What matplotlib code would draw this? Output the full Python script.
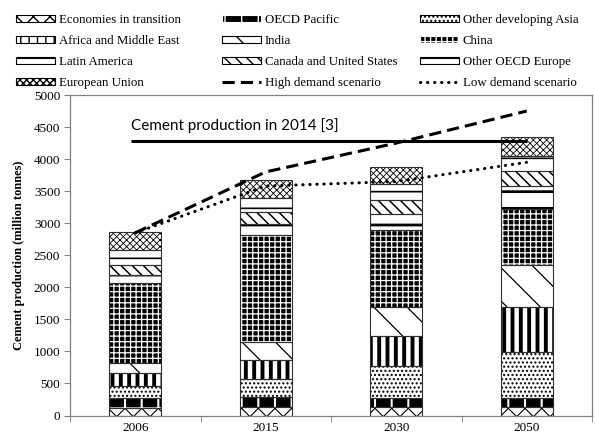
import numpy as np
import matplotlib
matplotlib.use('Agg')
import matplotlib.pyplot as plt
from matplotlib.patches import Patch
from matplotlib.lines import Line2D

years = ['2006', '2015', '2030', '2050']

# million tonnes per region, bottom of the stack first
econ_transition = [115, 130, 130, 130]
oecd_pacific = [165, 155, 145, 145]
other_dev_asia = [180, 285, 505, 720]
africa_me = [210, 300, 465, 690]
india = [155, 270, 440, 665]
china = [1235, 1675, 1210, 865]
latin_america = [130, 180, 245, 365]
canada_us = [155, 185, 220, 235]
other_oecd_europe = [235, 220, 250, 235]
european_union = [275, 275, 270, 295]

high_demand = [2850, 3800, 4250, 4750]
low_demand = [2850, 3580, 3650, 3950]
production_2014 = 4280

regions = [
    ('Economies in transition', econ_transition),
    ('OECD Pacific', oecd_pacific),
    ('Other developing Asia', other_dev_asia),
    ('Africa and Middle East', africa_me),
    ('India', india),
    ('China', china),
    ('Latin America', latin_america),
    ('Canada and United States', canada_us),
    ('Other OECD Europe', other_oecd_europe),
    ('European Union', european_union),
]

# (facecolor, hatch colour, hatch, hatch linewidth)
styles = {
    'Economies in transition': ('white', 'black', 'xx', 0.8),
    'OECD Pacific': ('black', 'white', '+', 1.5),
    'Other developing Asia': ('white', 'black', '....', 1.0),
    'Africa and Middle East': ('white', 'black', '||', 2.8),
    'India': ('white', 'black', '\\', 0.9),
    'China': ('black', 'white', '+++', 0.9),
    'Latin America': ('white', 'black', '-', 2.0),
    'Canada and United States': ('white', 'black', '\\\\\\', 1.1),
    'Other OECD Europe': ('white', 'black', '-', 1.2),
    'European Union': ('white', 'black', 'xxxxx', 0.6),
}

serif = 'Liberation Serif'
plt.rcParams['font.family'] = serif

HIGH_STYLE = dict(color='black', linestyle=(0, (4, 2)), linewidth=2.2)
LOW_STYLE = dict(color='black', linestyle=(0, (0.1, 2.2)), linewidth=2.2,
                 dash_capstyle='round')


def hatched_bar(ax, x, h, bottom, style, width):
    face, hcol, hatch, hlw = style
    with plt.rc_context({'hatch.linewidth': hlw}):
        bars = ax.bar(x, h, width, bottom=bottom, color=face, edgecolor=hcol,
                      hatch=hatch, linewidth=0, zorder=2)
        for b in bars:
            if hasattr(b, 'set_hatch_linewidth'):
                b.set_hatch_linewidth(hlw)
    ax.bar(x, h, width, bottom=bottom, fill=False, edgecolor='#303030',
           linewidth=0.8, zorder=3)


def legend_patch(name):
    face, hcol, hatch, hlw = styles[name]
    with plt.rc_context({'hatch.linewidth': hlw}):
        p = Patch(facecolor=face, edgecolor=hcol, hatch=hatch, linewidth=0.8, label=name)
        if hasattr(p, 'set_hatch_linewidth'):
            p.set_hatch_linewidth(hlw)
    return p


W, H = 595, 437
fig = plt.figure(figsize=(W / 100, H / 100), dpi=100)
ax = fig.add_axes([70 / W, 1 - 415.5 / H, 522 / W, 320.5 / H])

x = np.arange(len(years))
width = 0.4
bottom = np.zeros(len(years))
for name, vals in regions:
    hatched_bar(ax, x, vals, bottom, styles[name], width)
    bottom += np.array(vals)

ax.plot(x, high_demand, zorder=4, **HIGH_STYLE)
ax.plot(x, low_demand, zorder=4, **LOW_STYLE)
ax.hlines(production_2014, x[0] - 0.03, x[-1], color='black', linewidth=2.2, zorder=4)
ax.text(x[0] - 0.03, production_2014 + 130, 'Cement production in 2014 [3]',
        family='Lato', fontsize=11, va='bottom', ha='left')

ax.set_xlim(-0.5, 3.5)
ax.set_ylim(0, 5000)
ax.set_yticks(np.arange(0, 5001, 500))
ax.set_xticks(x)
ax.set_xticklabels(years)
ax.set_xticks(np.arange(-0.5, 3.6, 1), minor=True)
ax.tick_params(axis='x', which='major', length=0, pad=5, labelsize=9.5)
ax.tick_params(axis='x', which='minor', length=4, color='#808080')
ax.tick_params(axis='y', length=4, color='#808080', labelsize=9.5, pad=3)
for sp in ax.spines.values():
    sp.set_color('#808080')
    sp.set_linewidth(0.9)
ax.set_ylabel('Cement production (million tonnes)', fontweight='bold', fontsize=8.9,
              labelpad=6)

# legend: three columns, filled row by row
handles = [legend_patch(name) for name, _ in regions]
handles.append(Line2D([], [], label='High demand scenario', **HIGH_STYLE))
handles.append(Line2D([], [], label='Low demand scenario', **LOW_STYLE))
col_x = [16, 222, 420]
for c in range(3):
    col = handles[c::3]
    fig.legend(col, [h.get_label() for h in col], loc='upper left',
               bbox_to_anchor=(col_x[c] / W, 1 - 14 / H), ncol=1, frameon=False,
               fontsize=9.3, handlelength=3.0, handleheight=0.55, handletextpad=0.3,
               labelspacing=0.7, borderaxespad=0, borderpad=0)

fig.savefig('out.png', dpi=100)
